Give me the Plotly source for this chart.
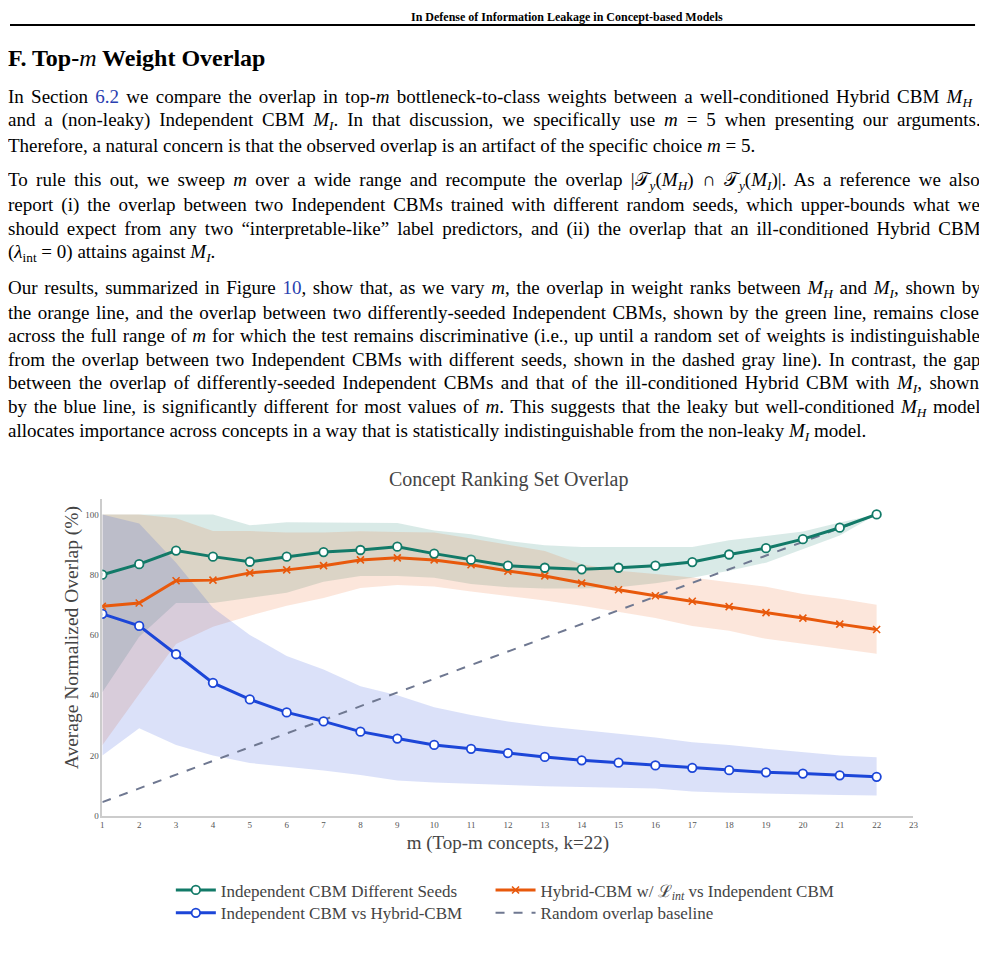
import re
import plotly.graph_objects as go

# page is drawn with an 8px body margin; figure fills the remaining area
OFF = 8
W, H = 987 - OFF, 953 - OFF

m_values = list(range(1, 23))
x_ticks = list(range(1, 24))
y_ticks = [0, 20, 40, 60, 80, 100]

green = [80, 83.5, 88, 86, 84.3, 86, 87.5, 88.2, 89.3, 87, 85, 83, 82.3, 81.8, 82.3, 83, 84.2, 86.7, 88.8, 91.8, 95.6, 100]
green_hi = [100, 100, 100, 100, 96.4, 97.4, 97.3, 97.3, 97.2, 94.7, 93.4, 91.2, 89.8, 89.2, 89.2, 89.2, 89.2, 91.4, 92.8, 94.3, 97.3, 100]
green_lo = [41, 59.4, 70.6, 70.6, 72.3, 74, 77.7, 79.6, 79.6, 79, 76.9, 75.8, 75.4, 75.4, 75.8, 77.2, 79, 81.3, 84, 88.4, 93, 100]

orange = [69.5, 70.6, 78, 78.2, 80.6, 81.6, 83, 84.9, 85.6, 84.9, 83.3, 81.2, 79.6, 77.2, 75, 73, 71.2, 69.4, 67.4, 65.6, 63.6, 61.8]
orange_hi = [100, 100, 98.7, 94.5, 94.5, 94, 94, 94.4, 94.2, 94, 92, 90, 87.9, 83.5, 81.3, 80.2, 79.1, 77.5, 76, 73.6, 72, 70]
orange_lo = [23.4, 40.4, 57, 62.7, 66.4, 69.7, 72.3, 75.6, 76.6, 76.1, 74.4, 72.8, 71.4, 69.7, 67.7, 65.6, 63, 61.4, 58.7, 57, 55.4, 53.8]

blue = [67, 63, 53.6, 44.1, 38.6, 34.3, 31.3, 27.9, 25.6, 23.5, 22.2, 20.8, 19.5, 18.4, 17.6, 16.7, 15.9, 15.1, 14.4, 14, 13.4, 12.9]
blue_hi = [100, 97, 84, 69, 60, 53, 48.5, 43, 40, 36, 33.4, 31.3, 29.7, 28.4, 27.1, 26, 24.4, 23.5, 22.2, 21, 20, 19.4]
blue_lo = [20, 29, 23.5, 20, 17.5, 16.3, 15, 13.5, 11.7, 11, 10.6, 10.2, 9.8, 9.5, 9.3, 9, 8, 7.6, 7.4, 7.1, 6.9, 6.7]

baseline = [4.5, 9.1, 13.6, 18.2, 22.7, 27.3, 31.8, 36.4, 40.9, 45.5, 50, 54.5, 59.1, 63.6, 68.2, 72.7, 77.3, 81.8, 86.4, 90.9, 95.5, 100]

GREEN = "#127a68"
ORANGE = "#e8590c"
BLUE = "#1c46d8"
GRAY = "#6f7891"
SERIF = "Liberation Serif, Times New Roman, serif"

px = lambda v: (v - OFF) / W
py = lambda v: 1 - (v - OFF) / H

fig = go.Figure()

def band(lo, hi, rgba):
    fig.add_trace(go.Scatter(
        x=m_values + m_values[::-1], y=hi + lo[::-1], fill="toself",
        fillcolor=rgba, line=dict(width=0), mode="lines",
        hoverinfo="skip", showlegend=False))

band(green_lo, green_hi, "rgba(18,122,104,0.16)")
band(orange_lo, orange_hi, "rgba(232,89,12,0.15)")
band(blue_lo, blue_hi, "rgba(28,70,216,0.16)")

fig.add_trace(go.Scatter(x=m_values, y=baseline, mode="lines",
                         line=dict(color=GRAY, width=2, dash="dash"),
                         name="Random overlap baseline", legend="legend4"))
fig.add_trace(go.Scatter(x=m_values, y=blue, mode="lines+markers",
                         line=dict(color=BLUE, width=3),
                         marker=dict(symbol="circle", size=8.5, color="white",
                                     line=dict(color=BLUE, width=1.8)),
                         name="Independent CBM vs Hybrid-CBM", legend="legend3"))
fig.add_trace(go.Scatter(x=m_values, y=orange, mode="lines+markers",
                         line=dict(color=ORANGE, width=3),
                         marker=dict(symbol="x-thin", size=7, color=ORANGE,
                                     line=dict(color=ORANGE, width=1.6)),
                         name="Hybrid-CBM w/ ℒ<sub><i>int</i></sub> vs Independent CBM",
                         legend="legend2"))
fig.add_trace(go.Scatter(x=m_values, y=green, mode="lines+markers",
                         line=dict(color=GREEN, width=3),
                         marker=dict(symbol="circle", size=8.5, color="white",
                                     line=dict(color=GREEN, width=1.8)),
                         name="Independent CBM Different Seeds", legend="legend"))

LINK = "#2a3fb0"
# (y centre, text, extra px needed to justify the line to the full text width)
lines = [
    (98, "In Section <span style='color:%s'>6.2</span> we compare the overlap in top-<i>m</i> bottleneck-to-class weights between a well-conditioned Hybrid CBM <i>M</i><sub><i>H</i></sub>" % LINK, 40),
    (122, "and a (non-leaky) Independent CBM <i>M</i><sub><i>I</i></sub>. In that discussion, we specifically use <i>m</i> = 5 when presenting our arguments.", 75),
    (146, "Therefore, a natural concern is that the observed overlap is an artifact of the specific choice <i>m</i> = 5.", 0),
    (182, "To rule this out, we sweep <i>m</i> over a wide range and recompute the overlap |𝒯<sub><i>y</i></sub>(<i>M</i><sub><i>H</i></sub>) ∩ 𝒯<sub><i>y</i></sub>(<i>M</i><sub><i>I</i></sub>)|. As a reference we also", 78),
    (206, "report (i) the overlap between two Independent CBMs trained with different random seeds, which upper-bounds what we", 52),
    (230, "should expect from any two “interpretable-like” label predictors, and (ii) the overlap that an ill-conditioned Hybrid CBM", 53),
    (254, "(<i>λ</i><sub>int</sub> = 0) attains against <i>M</i><sub><i>I</i></sub>.", 0),
    (290, "Our results, summarized in Figure <span style='color:%s'>10</span>, show that, as we vary <i>m</i>, the overlap in weight ranks between <i>M</i><sub><i>H</i></sub> and <i>M</i><sub><i>I</i></sub>, shown by" % LINK, 42),
    (314, "the orange line, and the overlap between two differently-seeded Independent CBMs, shown by the green line, remains close", 30),
    (338, "across the full range of <i>m</i> for which the test remains discriminative (i.e., up until a random set of weights is indistinguishable", 23),
    (362, "from the overlap between two Independent CBMs with different seeds, shown in the dashed gray line). In contrast, the gap", 40),
    (386, "between the overlap of differently-seeded Independent CBMs and that of the ill-conditioned Hybrid CBM with <i>M</i><sub><i>I</i></sub>, shown", 43),
    (410, "by the blue line, is significantly different for most values of <i>m</i>. This suggests that the leaky but well-conditioned <i>M</i><sub><i>H</i></sub> model", 38),
    (434, "allocates importance across concepts in a way that is statistically indistinguishable from the non-leaky <i>M</i><sub><i>I</i></sub> model.", 0),
]

annotations = []
for yy, t, extra in lines:
    plain = re.sub(r"<[^>]*>", "", t)
    spaces = max(plain.count(" "), 1)
    ws = extra / spaces
    txt = "<span style='word-spacing:%.2fpx'>%s</span>" % (ws, t) if extra else t
    annotations.append(dict(text=txt, x=px(4), y=py(yy), xref="paper", yref="paper",
                            xanchor="left", yanchor="middle", showarrow=False,
                            font=dict(family=SERIF, size=19, color="black")))

annotations.append(dict(text="<b>In Defense of Information Leakage in Concept-based Models</b>",
                        x=px(569), y=1.0, xref="paper", yref="paper", xanchor="center",
                        yanchor="top", showarrow=False,
                        font=dict(family=SERIF, size=12, color="black")))
annotations.append(dict(text="<b>F. Top-</b><i>m</i><b> Weight Overlap</b>",
                        x=px(4), y=py(58), xref="paper", yref="paper", xanchor="left",
                        yanchor="middle", showarrow=False,
                        font=dict(family=SERIF, size=24, color="black")))
annotations.append(dict(text="Concept Ranking Set Overlap", x=px(510), y=py(482),
                        xref="paper", yref="paper", xanchor="center", yanchor="middle",
                        showarrow=False, font=dict(family=SERIF, size=20, color="#444")))
annotations.append(dict(text="Average Normalized Overlap (%)", x=px(70), y=py(641),
                        xref="paper", yref="paper", xanchor="center", yanchor="middle",
                        textangle=-90, showarrow=False,
                        font=dict(family=SERIF, size=19.5, color="#444")))

legend_common = dict(orientation="v", xanchor="left", yanchor="top",
                     bgcolor="rgba(0,0,0,0)", itemwidth=40,
                     font=dict(size=17, color="#444", family=SERIF), tracegroupgap=0)

fig.update_layout(
    width=W, height=H,
    margin=dict(l=0, r=0, t=0, b=0),
    paper_bgcolor="white", plot_bgcolor="white",
    font=dict(family=SERIF, color="#444"),
    annotations=annotations,
    shapes=[dict(type="line", xref="paper", yref="paper", x0=0, x1=px(980),
                 y0=py(25), y1=py(25), line=dict(color="black", width=2))],
    xaxis=dict(domain=[px(101), px(918)], range=[1, 23], tickvals=x_ticks,
               ticktext=[str(v) for v in x_ticks], showgrid=False, zeroline=False,
               showline=True, linecolor="#cccccc", linewidth=1.5, ticks="",
               tickfont=dict(size=9, color="#555", family=SERIF),
               title=dict(text="m (Top-m concepts, k=22)", standoff=6,
                          font=dict(size=19, color="#444", family=SERIF))),
    yaxis=dict(domain=[py(820), py(502)], range=[0, 105], tickvals=y_ticks,
               showgrid=False, zeroline=False, showline=True, linecolor="#cccccc",
               linewidth=1.5, ticks="",
               tickfont=dict(size=9, color="#555", family=SERIF)),
    legend=dict(x=px(170), y=py(877), **legend_common),
    legend2=dict(x=px(492), y=py(877), **legend_common),
    legend3=dict(x=px(170), y=py(900), **legend_common),
    legend4=dict(x=px(492), y=py(900), **legend_common),
    showlegend=True,
)

fig.write_html("out.html")
